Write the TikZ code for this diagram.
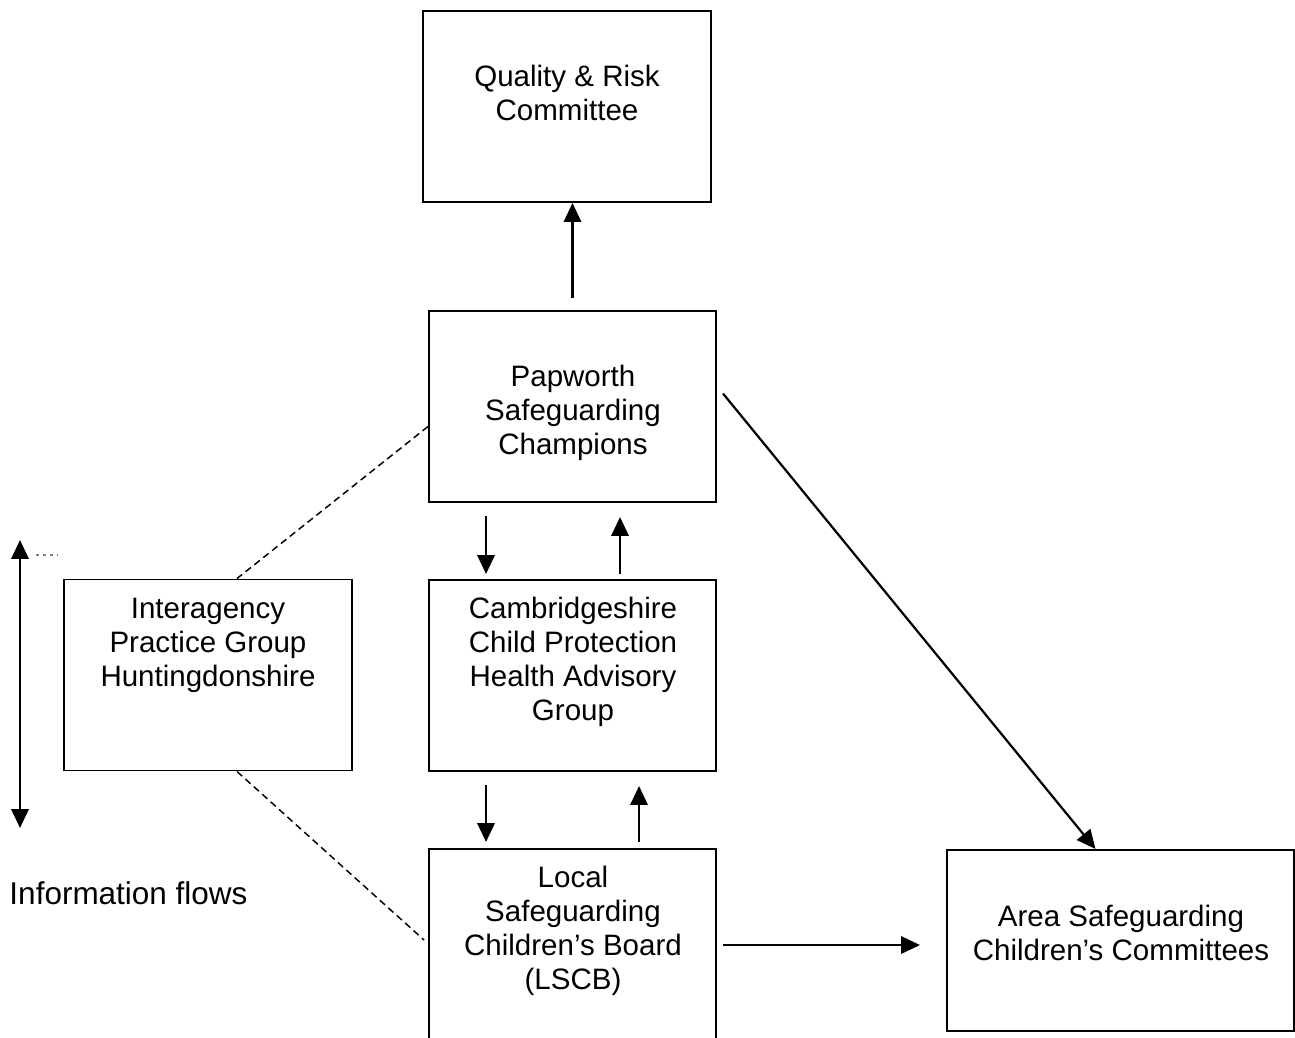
\documentclass[tikz,border=0pt]{standalone}
\usepackage{fontspec}
\setmainfont{Liberation Sans}
\usetikzlibrary{arrows.meta, calc}

\tikzset{
  box/.style={draw, line width=0.8pt, inner sep=0pt,
    minimum width=287*0.4065pt, minimum height=191*0.4065pt},
  lbl/.style={align=center, inner sep=0pt, font=\fontsize{12}{13.8}\selectfont},
  flow/.style={line width=1.1pt, -{Triangle[width=7pt, length=7.7pt]}},
  link/.style={line width=0.6pt, dash pattern=on 2.8pt off 1.8pt},
}

\begin{document}
\begin{tikzpicture}[x=0.4065pt, y=-0.4065pt]
  \useasboundingbox (0,0) rectangle (1295,1037);
  \clip (0,0) rectangle (1295,1037);
  % Boxes
  \node[box, minimum width=288*0.4065pt] (qrc) at (567,106.5) {};
  \node[box] (pap) at (572.5,406.5) {};
  \node[box] (cam) at (572.5,675.5) {};
  \node[box, minimum height=200*0.4065pt] (lscb) at (572.5,949) {};
  \node[box, minimum width=288*0.4065pt] (iag) at (208,675) {};
  \node[box, minimum width=347*0.4065pt, minimum height=181*0.4065pt] (asc) at (1120.5,940.5) {};
  % Labels
  \node[lbl] (qrct) at (567,93) {Quality \& Risk\\Committee};
  \node[lbl] (papt) at (573,413) {Papworth\\Safeguarding\\Champions};
  \node[lbl] (camt) at (573,662) {Cambridgeshire\\Child Protection\\Health Advisory\\Group};
  \node[lbl] (lscbt) at (573,931) {Local\\Safeguarding\\Children’s Board\\(LSCB)};
  \node[lbl] (iagt) at (208,645) {Interagency\\Practice Group\\Huntingdonshire};
  \node[lbl] (asct) at (1121,933) {Area Safeguarding\\Children’s Committees};
  \node[lbl, anchor=west, font=\fontsize{12.8}{13.8}\selectfont] (info) at (9,893) {Information flows};
  % Arrows
  \draw[flow] ($(pap.north)+(0,-12)$) -- (pap.north |- qrc.south);
  \draw[flow] ($(pap.south west)+(58,13)$) -- ($(cam.north west)+(58,-5)$);
  \draw[flow] ($(cam.north west)+(192,-5)$) -- ($(pap.south west)+(192,14)$);
  \draw[flow] ($(cam.south west)+(58,13)$) -- ($(lscb.north west)+(58,-6)$);
  \draw[flow] ($(lscb.north west)+(211,-6)$) -- ($(cam.south west)+(211,14)$);
  \draw[flow, line width=0.9pt] ($(pap.east)+(6,-13)$) -- ($(asc.north)+(-25,0)$);
  \draw[flow] ($(lscb.east)+(6,-4)$) -- ($(asc.west)+(-26,4.5)$);
  % Dashed links
  \draw[link] ($(pap.west)+(0,20)$) -- ($(iag.north)+(29,0)$);
  \draw[link] ($(iag.south)+(29,0)$) -- ($(lscb.west)+(-4,-9)$);
  % Information flows
  \coordinate (ftop) at (20,540);
  \coordinate (fbot) at (20,828);
  \draw[flow, line width=1.2pt, {Triangle[width=7pt, length=7.7pt]}-{Triangle[width=7pt, length=7.7pt]}] (ftop) -- (fbot);
  \draw[gray, line width=0.5pt, dash pattern=on 1.2pt off 1.6pt] (36,555) -- (57,555);
\end{tikzpicture}
\end{document}
